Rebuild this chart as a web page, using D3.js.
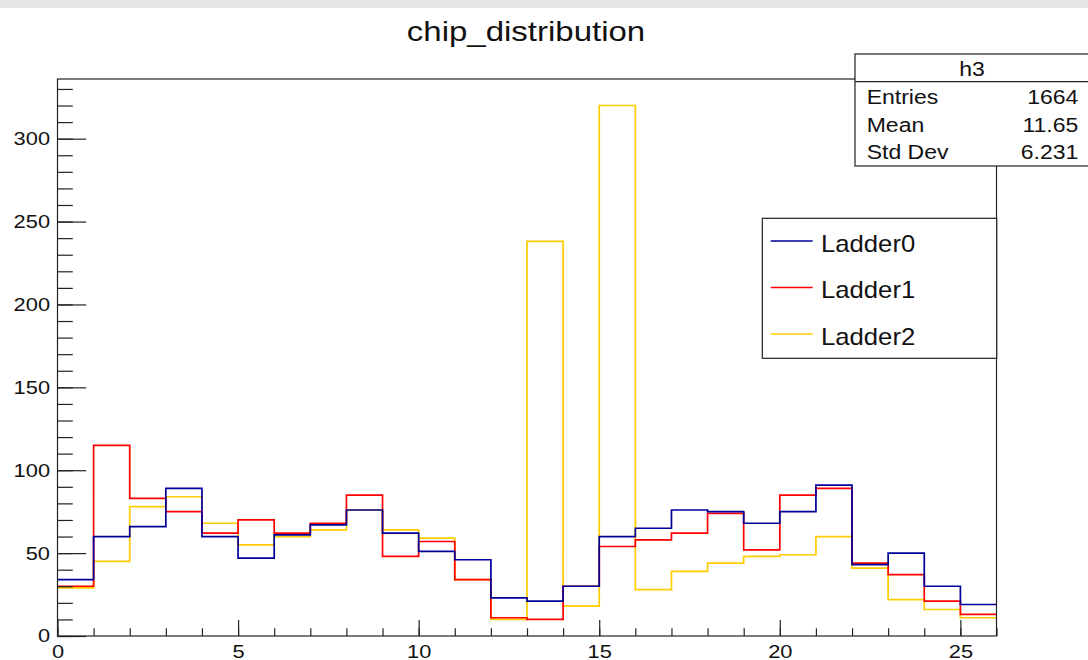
<!DOCTYPE html>
<html lang="en">
<head>
<meta charset="UTF-8">
<title>chip_distribution</title>
<script src="https://cdnjs.cloudflare.com/ajax/libs/d3/7.8.5/d3.min.js"></script>
<style>
  body { margin: 0; background: #fff; }
  svg { display: block; font-family: "Liberation Sans", Arial, sans-serif; }
  .frame { fill: none; stroke: #222; stroke-width: 1.2; }
  .tick line { stroke: #222; stroke-width: 1.2; }
  .tick text { fill: #111; }
</style>
</head>
<body>
<svg id="chart" width="1088" height="660"></svg>
<script>
// bin contents, one value per chip 0..25
const chips = d3.range(26);
const ladder0 = [34, 60, 66, 89, 60, 47, 61, 67, 76, 62, 51, 46, 23, 21, 30, 60, 65, 76, 75, 68, 75, 91, 43, 50, 30, 19];
const ladder1 = [30, 115, 83, 75, 62, 70, 62, 68, 85, 48, 57, 34, 11, 10, 30, 54, 58, 62, 74, 52, 85, 89, 44, 37, 21, 13];
const ladder2 = [29, 45, 78, 84, 68, 55, 60, 64, 76, 64, 59, 34, 10, 238, 18, 320, 28, 39, 44, 48, 49, 60, 41, 22, 16, 11];
const seriesNames = ["Ladder0", "Ladder1", "Ladder2"];
const seriesColors = ["#000099", "#ff0000", "#ffcc00"];
const statLabels = ["Entries", "Mean", "Std Dev"];
const statValues = ["1664", "11.65", "6.231"];

const SX = 1.18; // glyphs in the reference are a bit wider than Liberation Sans

const svg = d3.select('#chart');
const fr = { left: 57.5, right: 996.5, top: 79, bottom: 636 };

const x = d3.scaleLinear().domain([0, 26]).range([fr.left, fr.right]);
const y = d3.scaleLinear().domain([0, 336]).range([fr.bottom, fr.top]);

// grey strip at the very top of the canvas
svg.append('rect').attr('x', 0).attr('y', 0).attr('width', 1088).attr('height', 8).attr('fill', '#e6e6e6');

function label(g, px, py, s, size, anchor, sx) {
  return g.append('text')
    .attr('transform', `translate(${px},${py}) scale(${sx || SX},1)`)
    .attr('text-anchor', anchor || 'start')
    .style('font-size', size + 'px')
    .attr('fill', '#111')
    .text(s);
}

// title
label(svg, 526, 40.7, 'chip_distribution', 27.5, 'middle', 1.2);

// histograms (drawn yellow, red, blue so blue ends up on top)
const line = d3.line().x(d => x(d[0])).y(d => y(d[1])).curve(d3.curveStepAfter);
const all = [ladder0, ladder1, ladder2];
[2, 1, 0].forEach(k => {
  const vals = all[k];
  const pts = chips.map(i => [i, vals[i]]).concat([[26, vals[25]]]);
  svg.append('path')
    .attr('d', line(pts))
    .attr('fill', 'none')
    .attr('stroke', seriesColors[k])
    .attr('stroke-width', 1.7);
});

// y axis: major + minor ticks, pointing into the frame
const yMajor = svg.append('g').attr('transform', `translate(${fr.left},0)`)
  .call(d3.axisLeft(y).tickValues(d3.range(0, 301, 50)).tickSize(-28.7).tickSizeOuter(0).tickPadding(7.5 / SX));
yMajor.select('.domain').remove();
yMajor.selectAll('.tick text')
  .style('font-size', '18.5px')
  .attr('transform', `scale(${SX},1)`);

const yMinor = svg.append('g').attr('transform', `translate(${fr.left},0)`)
  .call(d3.axisLeft(y).tickValues(d3.range(0, 336, 10)).tickSize(-15.3).tickSizeOuter(0).tickFormat(''));
yMinor.select('.domain').remove();

// x axis
const xMajor = svg.append('g').attr('transform', `translate(0,${fr.bottom})`)
  .call(d3.axisBottom(x).tickValues(d3.range(0, 26, 5)).tickSize(-16).tickSizeOuter(0).tickPadding(9));
xMajor.select('.domain').remove();
xMajor.selectAll('.tick text')
  .style('font-size', '18.5px')
  .attr('transform', `scale(${SX},1)`);

const xMinor = svg.append('g').attr('transform', `translate(0,${fr.bottom})`)
  .call(d3.axisBottom(x).tickValues(d3.range(0, 27, 1)).tickSize(-7.7).tickSizeOuter(0).tickFormat(''));
xMinor.select('.domain').remove();

// frame
svg.append('rect').attr('class', 'frame')
  .attr('x', fr.left).attr('y', fr.top).attr('width', fr.right - fr.left).attr('height', fr.bottom - fr.top);

// stats box
const stats = svg.append('g');
stats.append('rect').attr('x', 855).attr('y', 54).attr('width', 240).attr('height', 112)
  .attr('fill', '#fff').attr('stroke', '#222').attr('stroke-width', 1.2);
stats.append('line').attr('x1', 855).attr('x2', 1095).attr('y1', 81.7).attr('y2', 81.7)
  .attr('stroke', '#222').attr('stroke-width', 1.2);
label(stats, 972, 76, 'h3', 19.5, 'middle');
statLabels.forEach((s, i) => {
  label(stats, 866.7, 104 + i * 27.5, s, 19.5, 'start');
  label(stats, 1078.3, 104 + i * 27.5, statValues[i], 19.5, 'end');
});

// legend
const leg = svg.append('g');
leg.append('rect').attr('x', 762.3).attr('y', 218.3).attr('width', 996.7 - 762.3).attr('height', 140)
  .attr('fill', '#fff').attr('stroke', '#222').attr('stroke-width', 1.2);
seriesNames.forEach((n, i) => {
  const ly = 241 + i * 46.5;
  leg.append('line').attr('x1', 770.7).attr('x2', 812.7).attr('y1', ly).attr('y2', ly)
    .attr('stroke', seriesColors[i]).attr('stroke-width', 1.5);
  label(leg, 821, ly + 10.5, n, 24, 'start', 1.07);
});
</script>
</body>
</html>
